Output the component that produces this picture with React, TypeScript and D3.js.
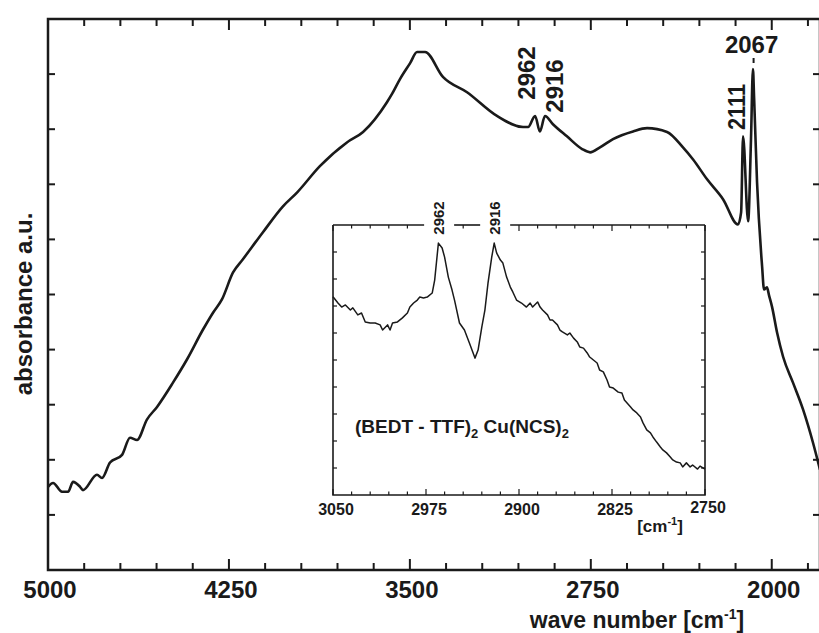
import { useEffect, useRef } from 'react';
import * as d3 from 'd3';

// main spectrum (wave number in cm-1, absorbance a.u.)
const mainWave = [5000, 4979, 4942, 4917, 4896, 4867, 4855, 4797, 4776, 4743, 4693, 4660, 4631, 4590, 4548, 4482, 4424, 4358, 4316, 4279, 4233, 4192, 4109, 4026, 3968, 3873, 3761, 3694, 3595, 3574, 3541, 3499, 3470, 3437, 3363, 3263, 3139, 3031, 3010, 2981, 2961, 2940, 2907, 2849, 2786, 2753, 2712, 2658, 2575, 2517, 2434, 2368, 2326, 2268, 2202, 2140, 2127, 2119, 2098, 2086, 2078, 2073, 2061, 2040, 2032, 2020, 2011, 1999, 1978, 1953, 1912, 1870, 1829, 1800];
const mainAbs = [1.51, 1.58, 1.42, 1.42, 1.60, 1.51, 1.45, 1.73, 1.67, 1.95, 2.09, 2.40, 2.36, 2.73, 2.96, 3.40, 3.82, 4.36, 4.67, 4.91, 5.40, 5.64, 6.13, 6.60, 6.85, 7.33, 7.76, 7.95, 8.49, 8.64, 8.91, 9.20, 9.40, 9.40, 8.95, 8.67, 8.24, 8.04, 8.04, 8.24, 7.96, 8.24, 8.09, 7.87, 7.64, 7.58, 7.67, 7.82, 7.96, 8.02, 7.95, 7.67, 7.45, 7.09, 6.73, 6.27, 6.49, 7.87, 6.33, 7.82, 9.09, 8.55, 7.04, 5.51, 5.09, 5.13, 4.98, 4.78, 4.31, 3.87, 3.40, 2.91, 2.31, 1.82];

// inset: zoom on the C-H stretching region
const insetWave = [3050, 3046, 3043, 3040, 3036, 3034, 3030, 3027, 3024, 3020, 3016, 3012, 3010, 3006, 3004, 3002, 2998, 2994, 2990, 2988, 2985, 2982, 2980, 2977, 2974, 2970, 2968, 2965, 2962, 2960, 2957, 2954, 2952, 2948, 2944, 2940, 2935.5, 2933, 2930, 2927.5, 2925, 2922, 2920, 2918, 2915, 2913, 2910, 2907, 2905, 2902, 2898, 2894, 2891, 2889, 2885, 2883, 2881, 2877, 2875, 2873, 2869, 2867, 2865, 2861, 2859, 2856, 2853, 2851, 2848, 2845, 2843, 2840, 2837, 2835, 2832, 2829, 2827, 2824, 2820, 2817, 2815, 2810, 2808, 2805, 2802, 2800, 2797, 2794, 2792, 2789, 2786, 2784, 2781, 2778, 2776, 2773, 2770, 2768, 2765, 2762, 2760, 2756, 2754, 2750];
const insetAbs = [7.34, 7.11, 6.96, 7.04, 6.85, 6.93, 6.67, 6.74, 6.41, 6.37, 6.37, 6.30, 6.11, 6.30, 6.11, 6.37, 6.41, 6.56, 6.74, 6.96, 7.11, 7.22, 7.33, 7.30, 7.33, 7.48, 7.96, 9.33, 9.15, 8.81, 8.07, 7.59, 7.22, 6.37, 6.11, 5.63, 5.07, 5.37, 6.22, 6.85, 7.85, 8.81, 9.33, 8.96, 8.70, 8.59, 8.07, 7.70, 7.52, 7.22, 7.11, 6.96, 7.11, 6.96, 7.15, 6.96, 6.85, 6.67, 6.48, 6.48, 6.30, 6.11, 6.04, 5.93, 6.00, 5.81, 5.67, 5.48, 5.44, 5.26, 5.11, 5.00, 4.89, 4.63, 4.56, 4.26, 4.00, 3.96, 3.81, 3.78, 3.52, 3.26, 3.15, 3.04, 2.89, 2.67, 2.41, 2.30, 2.15, 1.96, 1.78, 1.67, 1.56, 1.41, 1.30, 1.22, 1.19, 1.04, 1.19, 1.04, 1.11, 0.96, 1.07, 0.96];

const mainTickLabels = [5000, 4250, 3500, 2750, 2000];
const insetTickLabels = [3050, 2975, 2900, 2825, 2750];
const mainPeaks = [2962, 2916, 2111, 2067];
const insetPeaks = [2962, 2916];

const W = 819;
const H = 633;

export default function App() {
  const svgRef = useRef<SVGSVGElement>(null);

  useEffect(() => {
    if (!svgRef.current) return;
    const svg = d3.select(svgRef.current);
    svg.selectAll('*').remove();

    const ink = '#1a1a1a';
    const font = '"Liberation Sans", Arial, Helvetica, sans-serif';

    svg.append('rect').attr('width', W).attr('height', H).attr('fill', '#fff');

    // ---- main panel ----
    const x = d3.scaleLinear().domain([5000, 1800]).range([48, 820]);
    const y = d3.scaleLinear().domain([0, 10]).range([570, 19]);

    svg.append('rect')
      .attr('x', x(5000)).attr('y', y(10))
      .attr('width', x(1800) - x(5000)).attr('height', y(0) - y(10))
      .attr('fill', 'none').attr('stroke', ink).attr('stroke-width', 2.5);

    const xTicks = d3.range(5000, 1820, -150);
    const isMajor = (v: number) => (5000 - v) % 750 === 0;

    const tg = svg.append('g').attr('stroke', ink).attr('stroke-width', 2);
    xTicks.forEach((v) => {
      const len = isMajor(v) ? 11 : 7;
      tg.append('line').attr('x1', x(v)).attr('x2', x(v)).attr('y1', y(0)).attr('y2', y(0) - len);
      tg.append('line').attr('x1', x(v)).attr('x2', x(v)).attr('y1', y(10)).attr('y2', y(10) + len);
    });
    d3.range(1, 10).forEach((v) => {
      tg.append('line').attr('x1', x(5000)).attr('x2', x(5000) + 7).attr('y1', y(v)).attr('y2', y(v));
      tg.append('line').attr('x1', x(1800)).attr('x2', x(1800) - 7).attr('y1', y(v)).attr('y2', y(v));
    });

    svg.append('g').selectAll('text').data(mainTickLabels).join('text')
      .attr('x', (d) => x(d) + 2).attr('y', 598)
      .attr('text-anchor', 'middle')
      .attr('font-family', font).attr('font-weight', 'bold').attr('font-size', 24)
      .attr('fill', ink)
      .text((d) => d);

    const xt = svg.append('text')
      .attr('x', 637).attr('y', 628)
      .attr('text-anchor', 'middle')
      .attr('font-family', font).attr('font-weight', 'bold').attr('font-size', 23)
      .attr('fill', ink);
    xt.append('tspan').text('wave number [cm');
    xt.append('tspan').attr('font-size', 14).attr('dy', -9).text('-1');
    xt.append('tspan').attr('dy', 9).text(']');

    svg.append('text')
      .attr('transform', 'translate(32,304) rotate(-90)')
      .attr('text-anchor', 'middle')
      .attr('font-family', font).attr('font-weight', 'bold').attr('font-size', 24)
      .attr('fill', ink)
      .text('absorbance a.u.');

    const line = d3.line<number>()
      .x((_, i) => x(mainWave[i]))
      .y((d) => y(d))
      .curve(d3.curveMonotoneX);
    svg.append('path')
      .attr('d', line(mainAbs))
      .attr('fill', 'none').attr('stroke', ink).attr('stroke-width', 2.6)
      .attr('stroke-linejoin', 'round');

    // peak labels of the main spectrum
    const mainNudge = [-13, 4, -8, -4];
    const mainLabelY = [73, 86, 107, 53];
    mainPeaks.forEach((p, i) => {
      const lx = x(p) + mainNudge[i];
      const t = svg.append('text')
        .attr('font-family', font).attr('font-weight', 'bold').attr('font-size', 24)
        .attr('fill', ink).text(p);
      if (p === 2067) {
        t.attr('x', lx).attr('y', mainLabelY[i]).attr('text-anchor', 'middle');
        svg.append('line').attr('x1', x(p) - 2).attr('x2', x(p) - 2).attr('y1', 58).attr('y2', 63)
          .attr('stroke', ink).attr('stroke-width', 2);
      } else {
        t.attr('transform', `translate(${lx},${mainLabelY[i]}) rotate(-90)`)
          .attr('text-anchor', 'middle').attr('dominant-baseline', 'central');
        if (p === 2111) t.attr('textLength', 46).attr('lengthAdjust', 'spacingAndGlyphs');
      }
    });

    // ---- inset ----
    const xi = d3.scaleLinear().domain([3050, 2750]).range([333, 705]);
    const yi = d3.scaleLinear().domain([0, 10]).range([495, 225]);

    svg.append('rect')
      .attr('x', xi(3050)).attr('y', yi(10))
      .attr('width', xi(2750) - xi(3050)).attr('height', yi(0) - yi(10))
      .attr('fill', '#fff');

    const insetNudge = [-4, -5];
    const gaps = insetPeaks.map((p, i) => [xi(p) + insetNudge[i] - 14, xi(p) + insetNudge[i] + 16]);
    const fg = svg.append('g').attr('stroke', ink).attr('stroke-width', 1.6).attr('fill', 'none');
    fg.append('path').attr('d', `M${xi(3050)},${yi(10)}V${yi(0)}H${xi(2750)}V${yi(10)}`);
    const topSegs = [[xi(3050), gaps[0][0]], [gaps[0][1], gaps[1][0]], [gaps[1][1], xi(2750)]];
    topSegs.forEach(([a, b]) => fg.append('line').attr('x1', a).attr('x2', b).attr('y1', yi(10)).attr('y2', yi(10)));

    const ig = svg.append('g').attr('stroke', ink).attr('stroke-width', 1.2);
    d3.range(3050, 2745, -15).forEach((v) => {
      const len = (3050 - v) % 75 === 0 ? 6 : 3.5;
      ig.append('line').attr('x1', xi(v)).attr('x2', xi(v)).attr('y1', yi(0)).attr('y2', yi(0) - len);
      const inGap = gaps.some(([a, b]) => xi(v) > a && xi(v) < b);
      if (!inGap) ig.append('line').attr('x1', xi(v)).attr('x2', xi(v)).attr('y1', yi(10)).attr('y2', yi(10) + len);
    });
    d3.range(1, 10).forEach((v) => {
      ig.append('line').attr('x1', xi(3050)).attr('x2', xi(3050) + 4).attr('y1', yi(v)).attr('y2', yi(v));
      ig.append('line').attr('x1', xi(2750)).attr('x2', xi(2750) - 4).attr('y1', yi(v)).attr('y2', yi(v));
    });

    svg.append('g').selectAll('text').data(insetTickLabels).join('text')
      .attr('x', (d) => xi(d) + 3).attr('y', (d) => (d === 2750 ? 513 : 515))
      .attr('text-anchor', 'middle')
      .attr('font-family', font).attr('font-weight', 'bold').attr('font-size', 16)
      .attr('fill', ink)
      .text((d) => d);

    const cu = svg.append('text')
      .attr('x', 660).attr('y', 532)
      .attr('text-anchor', 'middle')
      .attr('font-family', font).attr('font-weight', 'bold').attr('font-size', 17)
      .attr('fill', ink);
    cu.append('tspan').text('[cm');
    cu.append('tspan').attr('font-size', 11).attr('dy', -7).text('-1');
    cu.append('tspan').attr('dy', 7).text(']');

    const iline = d3.line<number>()
      .x((_, i) => xi(insetWave[i]))
      .y((d) => yi(d));
    svg.append('path')
      .attr('d', iline(insetAbs))
      .attr('fill', 'none').attr('stroke', ink).attr('stroke-width', 1.5)
      .attr('stroke-linejoin', 'round');

    insetPeaks.forEach((p, i) => {
      svg.append('text')
        .attr('transform', `translate(${xi(p) + insetNudge[i]},${218}) rotate(-90)`)
        .attr('text-anchor', 'middle').attr('dominant-baseline', 'central')
        .attr('font-family', font).attr('font-weight', 'bold').attr('font-size', 15)
        .attr('fill', ink).text(p);
    });

    const formula = svg.append('text')
      .attr('x', 355).attr('y', 433)
      .attr('font-family', font).attr('font-weight', 'bold').attr('font-size', 19)
      .attr('fill', ink);
    formula.append('tspan').text('(BEDT - TTF)');
    formula.append('tspan').attr('font-size', 13).attr('dy', 5).text('2');
    formula.append('tspan').attr('dy', -5).text(' Cu(NCS)');
    formula.append('tspan').attr('font-size', 13).attr('dy', 5).text('2');
  }, []);

  return (
    <div style={{ position: 'absolute', left: 0, top: 0 }}>
      <svg ref={svgRef} width={W} height={H} style={{ display: 'block' }} />
    </div>
  );
}
